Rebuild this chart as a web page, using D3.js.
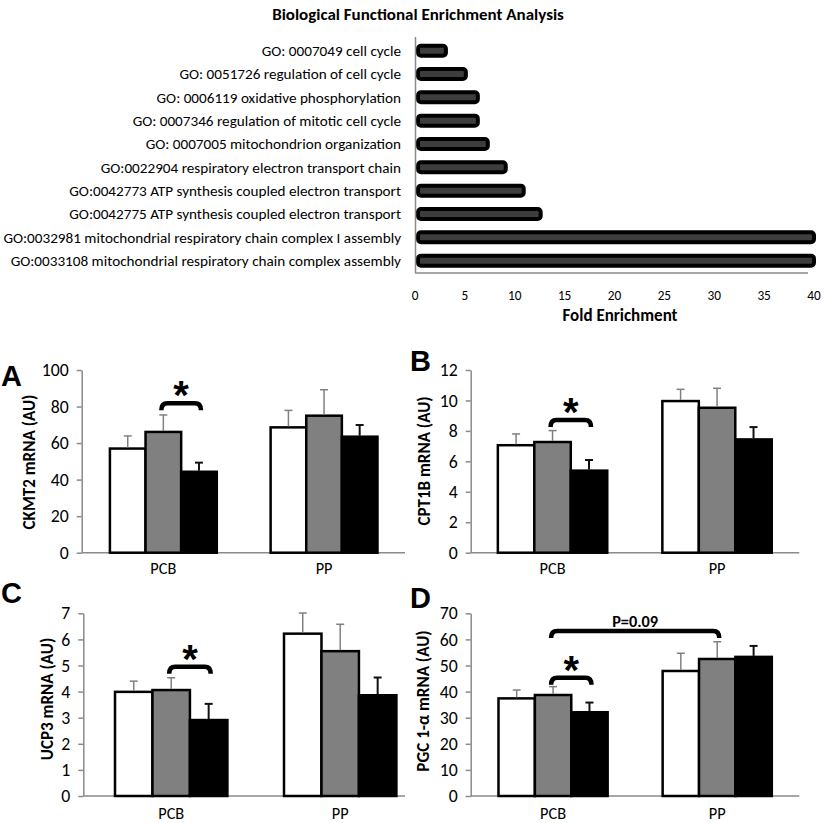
<!DOCTYPE html>
<html><head><meta charset="utf-8">
<script src="https://cdn.jsdelivr.net/npm/d3@7"></script>
<style>body{margin:0;background:#fff} svg{display:block}</style>
</head><body><svg id="c" width="825" height="823"></svg>
<script>
// ---------- data ----------
const goTerms = [
  "GO: 0007049 cell cycle",
  "GO: 0051726 regulation of cell cycle",
  "GO: 0006119 oxidative phosphorylation",
  "GO: 0007346 regulation of mitotic cell cycle",
  "GO: 0007005 mitochondrion organization",
  "GO:0022904 respiratory electron transport chain",
  "GO:0042773 ATP synthesis coupled electron transport",
  "GO:0042775 ATP synthesis coupled electron transport",
  "GO:0032981 mitochondrial respiratory chain complex I assembly",
  "GO:0033108 mitochondrial respiratory chain complex assembly"
];
const foldEnrichment = [3.1, 5.1, 6.3, 6.3, 7.3, 9.1, 10.9, 12.6, 40, 40];
const foldTicks = [0, 5, 10, 15, 20, 25, 30, 35, 40];

const groups = ["PCB", "PP"];
const seriesIdx = [0, 1, 2];               // white, gray, black bars
const seriesColors = ["#ffffff", "#808080", "#000000"];

const ckmt2Mean = [[57.0, 66.1, 44.3], [68.6, 75.0, 63.5]];
const ckmt2Err  = [[6.9, 9.3, 5.0], [9.3, 14.2, 6.4]];
const ckmt2Ticks = [0, 20, 40, 60, 80, 100];

const cpt1bMean = [[7.06, 7.27, 5.39], [9.96, 9.52, 7.44]];
const cpt1bErr  = [[0.74, 0.75, 0.70], [0.77, 1.28, 0.81]];
const cpt1bTicks = [0, 2, 4, 6, 8, 10, 12];

const ucp3Mean = [[3.99, 4.06, 2.91], [6.22, 5.55, 3.86]];
const ucp3Err  = [[0.41, 0.47, 0.62], [0.79, 1.03, 0.68]];
const ucp3Ticks = [0, 1, 2, 3, 4, 5, 6, 7];

const pgcMean = [[37.4, 38.7, 32.1], [47.9, 52.5, 53.3]];
const pgcErr  = [[3.2, 3.2, 3.7], [6.8, 6.6, 4.2]];
const pgcTicks = [0, 10, 20, 30, 40, 50, 60, 70];

// significance brackets: from [group, series] to [group, series], at value level
const ckmt2Sig = [{from: [0, 1], to: [0, 2], level: 81.8, label: "*"}];
const cpt1bSig = [{from: [0, 1], to: [0, 2], level: 8.72, label: "*"}];
const ucp3Sig  = [{from: [0, 1], to: [0, 2], level: 4.95, label: "*"}];
const pgcSig   = [{from: [0, 1], to: [0, 2], level: 45.3, label: "*"},
                  {from: [0, 1], to: [1, 1], level: 63.2, label: "P=0.09"}];

// ---------- drawing ----------
const FONT = "Carlito, Lato, 'Open Sans', sans-serif";
const svg = d3.select("#c");

function fitSize(text, weight, targetW, base) {
  const t = svg.append("text").attr("font-family", FONT).attr("font-weight", weight)
    .attr("font-size", base).text(text);
  const w = t.node().getComputedTextLength();
  t.remove();
  return base * targetW / w;
}

// ---- top chart ----
const topG = svg.append("g");
const titleSize = fitSize("Biological Functional Enrichment Analysis", "bold", 292, 14);
topG.append("text").attr("x", 418).attr("y", 20).attr("text-anchor", "middle")
  .attr("font-family", FONT).attr("font-weight", "bold").attr("font-size", titleSize)
  .text("Biological Functional Enrichment Analysis");

const fx = d3.scaleLinear().domain([0, 40]).range([415, 814]);
const fy = d3.scaleBand().domain(goTerms).range([39, 272.3]);
const labelSize = fitSize(goTerms[8], "normal", 398, 14);

topG.selectAll("text.go").data(goTerms).join("text").attr("class", "go")
  .attr("x", 401).attr("y", d => fy(d) + fy.bandwidth() / 2)
  .attr("dy", "0.35em").attr("text-anchor", "end")
  .attr("font-family", FONT).attr("font-size", labelSize).text(d => d);

topG.selectAll("rect.fe").data(goTerms).join("rect").attr("class", "fe")
  .attr("x", fx(0) + 3)
  .attr("y", d => fy(d) + fy.bandwidth() / 2 - 5)
  .attr("width", (d, i) => fx(foldEnrichment[i]) - fx(0) - 3)
  .attr("height", 10).attr("rx", 3)
  .attr("fill", "#3d3d3d").attr("stroke", "#000").attr("stroke-width", 4);

topG.append("line").attr("x1", 415.5).attr("x2", 415.5).attr("y1", 37).attr("y2", 273)
  .attr("stroke", "#8a8a8a").attr("stroke-width", 1.5);
topG.append("line").attr("x1", 415).attr("x2", 808).attr("y1", 273).attr("y2", 273)
  .attr("stroke", "#8a8a8a").attr("stroke-width", 1.5);

const ftSize = fitSize("40", "normal", 13.5, 14);
topG.selectAll("text.ft").data(foldTicks).join("text").attr("class", "ft")
  .attr("x", d => fx(d)).attr("y", 300).attr("text-anchor", "middle")
  .attr("font-family", FONT).attr("font-size", ftSize).text(d => d);
topG.append("text").attr("x", 620).attr("y", 321).attr("text-anchor", "middle")
  .attr("font-family", FONT).attr("font-weight", "bold")
  .attr("font-size", fitSize("Fold Enrichment", "bold", 115, 15))
  .text("Fold Enrichment");

// ---- bar panels ----
const panels = [
  {letter: "A", ylabel: "CKMT2 mRNA (AU)", mean: ckmt2Mean, err: ckmt2Err, ticks: ckmt2Ticks, sig: ckmt2Sig,
   L: {ax: 81.7, top: 370, zero: 552.7, right: 405, b0: 83, b1: 404.4, ylx: 29, yly: 462, lx: 1, ly: 386, catY: 577}},
  {letter: "B", ylabel: "CPT1B mRNA (AU)", mean: cpt1bMean, err: cpt1bErr, ticks: cpt1bTicks, sig: cpt1bSig,
   L: {ax: 470.7, top: 370, zero: 552.7, right: 799.3, b0: 470.3, b1: 799.3, ylx: 424, yly: 461, lx: 410, ly: 371, catY: 577}},
  {letter: "C", ylabel: "UCP3 mRNA (AU)", mean: ucp3Mean, err: ucp3Err, ticks: ucp3Ticks, sig: ucp3Sig,
   L: {ax: 83.3, top: 613.3, zero: 796, right: 405, b0: 86.7, b1: 424.7, ylx: 47, yly: 699, lx: 1, ly: 603, catY: 822}},
  {letter: "D", ylabel: "PGC 1-α mRNA (AU)", mean: pgcMean, err: pgcErr, ticks: pgcTicks, sig: pgcSig,
   L: {ax: 470.7, top: 613.3, zero: 796, right: 799.3, b0: 471, b1: 799.3, ylx: 423.5, yly: 701, lx: 410, ly: 608, catY: 822}}
];

const ylabelSize = fitSize("CKMT2 mRNA (AU)", "bold", 135, 16);
const tickSize = fitSize("100", "normal", 27, 16);
const catSize = fitSize("PCB", "normal", 26, 16);
const pSize = fitSize("P=0.09", "bold", 46, 15);

panels.forEach(p => {
  const L = p.L;
  const g = svg.append("g");
  const y = d3.scaleLinear().domain([0, d3.max(p.ticks)]).range([L.zero, L.top]);
  const x = d3.scaleBand().domain(groups).range([L.b0, L.b1]).paddingInner(0.335).paddingOuter(0.1675);
  const xs = d3.scaleBand().domain(seriesIdx).range([0, x.bandwidth()]);

  // y axis
  const yAxis = g.append("g").attr("transform", `translate(${L.ax},0)`)
    .call(d3.axisLeft(y).tickValues(p.ticks).tickFormat(d => String(d))
      .tickSize(5).tickSizeOuter(0).tickPadding(8));
  yAxis.select(".domain").attr("stroke", "#8a8a8a").attr("stroke-width", 1.5);
  yAxis.selectAll(".tick line").attr("stroke", "#8a8a8a").attr("stroke-width", 1.5);
  yAxis.selectAll(".tick text").attr("font-family", FONT).attr("font-size", tickSize).attr("fill", "#000");

  // x axis line
  g.append("line").attr("x1", L.ax).attr("x2", L.right).attr("y1", L.zero).attr("y2", L.zero)
    .attr("stroke", "#8a8a8a").attr("stroke-width", 1.5);
  const xAxis = g.append("g").attr("transform", `translate(0,${L.catY - 15})`)
    .call(d3.axisBottom(x).tickSize(0).tickPadding(0));
  xAxis.select(".domain").remove();
  xAxis.selectAll(".tick text").attr("font-family", FONT).attr("font-size", catSize).attr("fill", "#000");

  const cells = [];
  groups.forEach((grp, gi) => seriesIdx.forEach(s => cells.push({grp, gi, s, v: p.mean[gi][s], e: p.err[gi][s]})));

  // bars
  g.selectAll("rect.bar").data(cells).join("rect").attr("class", "bar")
    .attr("x", d => x(d.grp) + xs(d.s)).attr("y", d => y(d.v))
    .attr("width", xs.bandwidth()).attr("height", d => y(0) - y(d.v))
    .attr("fill", d => seriesColors[d.s]).attr("stroke", "#000").attr("stroke-width", 2.5);

  // error bars (upper)
  const eg = g.selectAll("g.err").data(cells).join("g").attr("class", "err")
    .attr("stroke", d => d.s === 2 ? "#111" : "#808080")
    .attr("stroke-width", d => d.s === 2 ? 2 : 1.5);
  eg.append("line")
    .attr("x1", d => x(d.grp) + xs(d.s) + xs.bandwidth() / 2)
    .attr("x2", d => x(d.grp) + xs(d.s) + xs.bandwidth() / 2)
    .attr("y1", d => y(d.v) - 1).attr("y2", d => y(d.v + d.e));
  eg.append("line")
    .attr("x1", d => x(d.grp) + xs(d.s) + xs.bandwidth() / 2 - 4)
    .attr("x2", d => x(d.grp) + xs(d.s) + xs.bandwidth() / 2 + 4)
    .attr("y1", d => y(d.v + d.e)).attr("y2", d => y(d.v + d.e));

  // brackets
  const cx = (gs) => x(groups[gs[0]]) + xs(gs[1]) + xs.bandwidth() / 2;
  p.sig.forEach(b => {
    const x1 = cx(b.from) - 2, x2 = cx(b.to) + 2, yy = y(b.level);
    g.append("path")
      .attr("d", `M${x1},${yy + 7} Q${x1},${yy} ${x1 + 6},${yy} L${x2 - 6},${yy} Q${x2},${yy} ${x2},${yy + 7}`)
      .attr("fill", "none").attr("stroke", "#000").attr("stroke-width", 4.5);
    const isStar = b.label === "*";
    g.append("text").attr("x", (x1 + x2) / 2).attr("y", isStar ? yy + 6 : yy - 4)
      .attr("text-anchor", "middle").attr("font-family", isStar ? "'Liberation Sans', Arial, sans-serif" : FONT)
      .attr("font-weight", "bold").attr("font-size", isStar ? 40 : pSize).text(b.label);
  });

  // y label
  g.append("text").attr("transform", `translate(${L.ylx},${L.yly}) rotate(-90)`)
    .attr("text-anchor", "middle").attr("dy", "0.35em")
    .attr("font-family", FONT).attr("font-weight", "bold").attr("font-size", ylabelSize).text(p.ylabel);

  // panel letter
  g.append("text").attr("x", L.lx).attr("y", L.ly)
    .attr("font-family", "'Liberation Sans', Arial, sans-serif").attr("font-weight", "bold").attr("font-size", 29)
    .text(p.letter);
});
</script></body></html>
